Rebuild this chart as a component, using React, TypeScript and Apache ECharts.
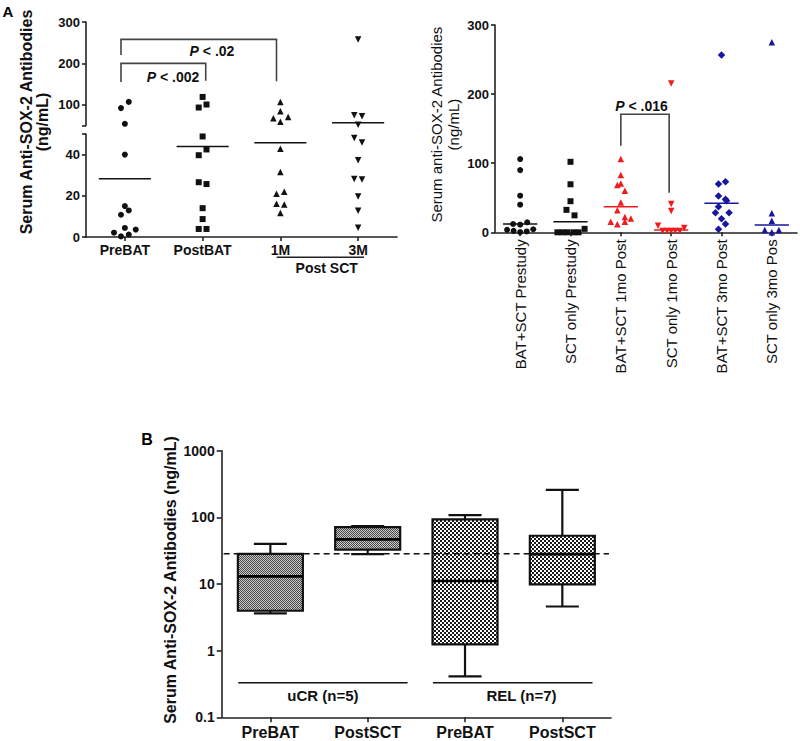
import React, { useEffect, useRef } from 'react';
import * as echarts from 'echarts';

const FONT = '"Liberation Sans", Arial, Helvetica, sans-serif';

// ---------- Panel A (left): broken axis dot plot ----------
const leftCats = ['PreBAT', 'PostBAT', '1M', '3M'];
const leftPreBAT = [107, 92, 54, 40, 15, 12.9, 10.8, 4.4, 3.6, 2.1, 1.2, 0.3];
const leftPreBATJitter = [0.05, -0.05, 0, 0, 0, 0.05, -0.05, 0, 0.14, -0.14, 0.05, -0.05];
const leftPostBAT = [119, 100.7, 93.4, 48.8, 42.5, 39.7, 26.6, 25.7, 14, 8.7, 3.9, 3.9];
const leftPostBATJitter = [0, 0.05, -0.05, 0, 0.05, -0.05, -0.05, 0.05, 0, 0, -0.05, 0.05];
const left1M = [106.6, 84.6, 70.7, 67.6, 59.3, 42.8, 31.5, 22, 21, 16.2, 15.8, 11.6];
const left1MJitter = [0, 0, 0.1, -0.09, 0, 0, 0, 0.05, -0.05, -0.05, 0.05, 0];
const left3M = [258, 74.9, 72.4, 52, 48.1, 45.9, 37.3, 28.1, 27.9, 19.6, 12.8, 4.5];
const left3MJitter = [0, -0.05, 0.05, 0, -0.05, 0.05, 0, -0.05, 0.05, 0, 0, 0];
const leftMeans = [28.3, 43.9, 45.7, 56.8];
const leftBreak = 50;
const leftUpperTicks = [50, 100, 200, 300];
const leftUpperLabels = [100, 200, 300];
const leftLowerTicks = [0, 20, 40, 50];
const leftLowerLabels = [0, 20, 40];
// brackets: [xLeft, xRight, yTop, yLeftBottom, yRightBottom, labelX, labelY]
const leftBrackets = [
  [-0.05, 1.95, 258, 220, 157, 1.12, 230],
  [-0.05, 1.04, 200, 155, 158, 0.62, 168],
];
const leftBracketLabels = ['P < .02', 'P < .002'];

// ---------- Panel A (right) ----------
const rightCats = [
  'BAT+SCT Prestudy',
  'SCT only Prestudy',
  'BAT+SCT 1mo Post',
  'SCT only 1mo Post',
  'BAT+SCT 3mo Post',
  'SCT only 3mo Pos',
];
const rBatPre = [106, 90, 53, 40, 14.5, 12, 11, 3.6, 2.1, 0.3, 1.2, 4.4];
const rBatPreJitter = [0, 0, 0, 0, 0.14, -0.14, 0, -0.26, -0.13, 0, 0.13, 0.26];
const rSctPre = [102, 69.5, 45, 32.5, 24.5, 5, 0, 0, 0, 0, 0];
const rSctPreJitter = [0, 0, 0, -0.08, 0.08, 0.28, -0.26, -0.16, -0.06, 0.06, 0.16];
const rBat1 = [106, 83, 70.5, 68.5, 60, 43, 32, 22, 20, 15.3, 15.3, 11.6];
const rBat1Jitter = [0, 0, 0, -0.07, 0.08, 0, -0.07, 0.08, 0.2, -0.2, 0.08, -0.07];
const rSct1 = [215.5, 41, 31, 9.6, 6.2, 2, 2, 2, 2, 2];
const rSct1Jitter = [0, 0, 0, -0.26, 0.26, -0.17, -0.08, 0, 0.08, 0.17];
const rBat3 = [256.6, 73.3, 70, 52.5, 47.7, 45.5, 37, 28.4, 28.4, 19.7, 12, 4.3];
const rBat3Jitter = [0, 0.08, -0.06, -0.06, 0.08, 0.1, -0.06, -0.12, 0.15, 0, 0.08, -0.06];
const rSct3 = [275, 27.5, 16.8, 3.3, 3.3, 0];
const rSct3Jitter = [0, 0, 0, -0.14, 0.14, 0];
const rMedians = [12, 15.4, 37, 3.3, 42, 10.6];
const rightTicks = [0, 100, 200, 300];
const rightBrackets = [[2.0, 2.96, 170.8, 125.3, 57.3, 2.41, 183]];
const rightBracketLabels = ['P < .016'];

// ---------- Panel B: box plots (log scale) ----------
const boxCats = ['PreBAT', 'PostSCT', 'PreBAT', 'PostSCT'];
const boxMin = [3.63, 28.1, 0.41, 4.6];
const boxQ1 = [3.97, 32.7, 1.24, 9.9];
const boxMedian = [13, 46.8, 11.1, 28.1];
const boxQ3 = [28.4, 71.5, 93.3, 53];
const boxMax = [40, 74, 108, 259];
const cutoffValue = 28.5;
const groupNames = ['uCR (n=5)', 'REL (n=7)'];
// [start, end, labelCenter] in category units
const groupSpans = [
  [-0.33, 1.41, 0.54],
  [1.67, 3.31, 2.58],
];
const groupLineValue = 0.33;

const RED = '#ee1c1c';
const BLUE = '#1616a0';
const INK = '#111';

function makePattern(cell: number, dark: string, light: string) {
  const c = document.createElement('canvas');
  c.width = cell * 2;
  c.height = cell * 2;
  const ctx = c.getContext('2d')!;
  ctx.fillStyle = light;
  ctx.fillRect(0, 0, cell * 2, cell * 2);
  ctx.fillStyle = dark;
  ctx.fillRect(0, 0, cell, cell);
  ctx.fillRect(cell, cell, cell, cell);
  return { image: c, repeat: 'repeat' };
}

function scatter(
  vals: number[],
  jit: number[],
  idx: number,
  xAxisIndex: number,
  yAxisIndex: number,
  keep: (v: number) => boolean,
  symbol: string,
  size: number,
  color: string,
  rotate = 0
) {
  const data = vals.map((v, k) => [idx + jit[k], v]).filter((p) => keep(p[1]));
  return {
    type: 'scatter',
    xAxisIndex,
    yAxisIndex,
    data,
    symbol,
    symbolSize: size,
    symbolRotate: rotate,
    itemStyle: { color, opacity: 1 },
    clip: false,
    silent: true,
    z: 4,
  };
}

function hLines(rows: number[][], colors: string[], half: number, xAxisIndex: number, yAxisIndex: number, width = 1.5) {
  return {
    type: 'custom',
    xAxisIndex,
    yAxisIndex,
    data: rows,
    silent: true,
    clip: false,
    z: 3,
    renderItem: (params: any, api: any) => {
      const i = api.value(0);
      const v = api.value(1);
      const a = api.coord([i - half, v]);
      const b = api.coord([i + half, v]);
      return {
        type: 'line',
        shape: { x1: a[0], y1: a[1], x2: b[0], y2: b[1] },
        style: { stroke: colors[params.dataIndex], lineWidth: width },
      };
    },
  };
}

function pText(label: string) {
  return '{i|' + label.slice(0, 1) + '}{n|' + label.slice(1) + '}';
}

function brackets(rows: number[][], labels: string[], xAxisIndex: number, yAxisIndex: number) {
  const rich = {
    i: { fontStyle: 'italic', fontWeight: 'bold', fontSize: 14, fontFamily: FONT, fill: INK },
    n: { fontWeight: 'bold', fontSize: 14, fontFamily: FONT, fill: INK },
  };
  return {
    type: 'custom',
    xAxisIndex,
    yAxisIndex,
    data: rows,
    silent: true,
    clip: false,
    z: 3,
    renderItem: (params: any, api: any) => {
      const x1 = api.value(0);
      const x2 = api.value(1);
      const top = api.value(2);
      const a = api.coord([x1, api.value(3)]);
      const b = api.coord([x1, top]);
      const c = api.coord([x2, top]);
      const d = api.coord([x2, api.value(4)]);
      const t = api.coord([api.value(5), api.value(6)]);
      return {
        type: 'group',
        children: [
          {
            type: 'polyline',
            shape: { points: [a, b, c, d] },
            style: { stroke: '#444', lineWidth: 1.6, fill: null },
          },
          {
            type: 'text',
            x: t[0],
            y: t[1],
            style: {
              text: pText(labels[params.dataIndex]),
              rich,
              align: 'center',
              verticalAlign: 'middle',
              textAlign: 'center',
              textVerticalAlign: 'middle',
            },
          },
        ],
      };
    },
  };
}

function buildOption() {
  const finePattern = makePattern(1, '#4a4a4a', '#c8c8c8');
  const coarsePattern = makePattern(2, '#1a1a1a', '#ffffff');
  const boxFills = [finePattern, finePattern, coarsePattern, coarsePattern];

  const axisLine = { show: true, onZero: false, lineStyle: { color: '#222', width: 1.6 } };
  const tickStyle = { color: '#222', width: 1.6 };

  const upper = (v: number) => v > leftBreak;
  const lower = (v: number) => v <= leftBreak;

  const leftSets: [number[], number[], string, number, number][] = [
    [leftPreBAT, leftPreBATJitter, 'circle', 6, 0],
    [leftPostBAT, leftPostBATJitter, 'rect', 6, 0],
    [left1M, left1MJitter, 'triangle', 6.5, 0],
    [left3M, left3MJitter, 'triangle', 6.5, 180],
  ];

  const series: any[] = [];
  leftSets.forEach(([vals, jit, sym, size, rot], i) => {
    series.push(scatter(vals, jit, i, 0, 0, upper, sym, size, INK, rot));
    series.push(scatter(vals, jit, i, 2, 1, lower, sym, size, INK, rot));
  });
  const meanRows = leftMeans.map((m, i) => [i, m]);
  const upperMeans = meanRows.filter((r) => r[1] > leftBreak);
  const lowerMeans = meanRows.filter((r) => r[1] <= leftBreak);
  series.push(hLines(upperMeans, upperMeans.map(() => INK), 0.335, 0, 0));
  series.push(hLines(lowerMeans, lowerMeans.map(() => INK), 0.335, 2, 1));
  series.push(brackets(leftBrackets, leftBracketLabels, 0, 0));

  const rightSets: [number[], number[], string, number, string, number][] = [
    [rBatPre, rBatPreJitter, 'circle', 6, INK, 0],
    [rSctPre, rSctPreJitter, 'rect', 6, INK, 0],
    [rBat1, rBat1Jitter, 'triangle', 6.5, RED, 0],
    [rSct1, rSct1Jitter, 'triangle', 6.5, RED, 180],
    [rBat3, rBat3Jitter, 'diamond', 7.5, BLUE, 0],
    [rSct3, rSct3Jitter, 'triangle', 6.5, BLUE, 0],
  ];
  const rightColors = rightSets.map((s) => s[4]);
  rightSets.forEach(([vals, jit, sym, size, color, rot], i) => {
    series.push(scatter(vals, jit, i, 4, 2, () => true, sym, size, color, rot));
  });
  series.push(hLines(rMedians.map((m, i) => [i, m]), rightColors, 0.34, 4, 2));
  series.push(brackets(rightBrackets, rightBracketLabels, 4, 2));

  // Panel B boxes
  series.push({
    type: 'custom',
    xAxisIndex: 5,
    yAxisIndex: 3,
    silent: true,
    clip: false,
    z: 2,
    data: boxCats.map((_, i) => [i, boxMin[i], boxQ1[i], boxMedian[i], boxQ3[i], boxMax[i]]),
    renderItem: (params: any, api: any) => {
      const i = api.value(0);
      const lo = api.coord([i, api.value(1)]);
      const q1 = api.coord([i, api.value(2)]);
      const md = api.coord([i, api.value(3)]);
      const q3 = api.coord([i, api.value(4)]);
      const hi = api.coord([i, api.value(5)]);
      const cx = md[0];
      const bw = 65;
      const cw = 33;
      const ls = { stroke: INK, lineWidth: 2.2 };
      return {
        type: 'group',
        children: [
          { type: 'line', shape: { x1: cx, y1: hi[1], x2: cx, y2: q3[1] }, style: ls },
          { type: 'line', shape: { x1: cx - cw / 2, y1: hi[1], x2: cx + cw / 2, y2: hi[1] }, style: ls },
          { type: 'line', shape: { x1: cx, y1: q1[1], x2: cx, y2: lo[1] }, style: ls },
          { type: 'line', shape: { x1: cx - cw / 2, y1: lo[1], x2: cx + cw / 2, y2: lo[1] }, style: ls },
          {
            type: 'rect',
            shape: { x: cx - bw / 2, y: q3[1], width: bw, height: q1[1] - q3[1] },
            style: { fill: boxFills[params.dataIndex], stroke: INK, lineWidth: 2.2 },
          },
          {
            type: 'line',
            shape: { x1: cx - bw / 2, y1: md[1], x2: cx + bw / 2, y2: md[1] },
            style: { stroke: '#000', lineWidth: 2.6 },
            z2: 10,
          },
        ],
      };
    },
  });
  // cutoff dashed line
  series.push({
    type: 'custom',
    xAxisIndex: 6,
    yAxisIndex: 3,
    silent: true,
    clip: false,
    z: 5,
    data: [[cutoffValue]],
    renderItem: (params: any, api: any) => {
      const v = api.value(0);
      const a = api.coord([-0.48, v]);
      const b = api.coord([3.48, v]);
      return {
        type: 'line',
        shape: { x1: a[0], y1: a[1], x2: b[0], y2: b[1] },
        style: { stroke: INK, lineWidth: 1.5, lineDash: [6, 4] },
      };
    },
  });
  // group lines + labels
  series.push({
    type: 'custom',
    xAxisIndex: 6,
    yAxisIndex: 3,
    silent: true,
    clip: false,
    z: 3,
    data: groupSpans.map((g) => [g[0], g[1], g[2], groupLineValue]),
    renderItem: (params: any, api: any) => {
      const y = api.value(3);
      const a = api.coord([api.value(0), y]);
      const b = api.coord([api.value(1), y]);
      const c = api.coord([api.value(2), y]);
      return {
        type: 'group',
        children: [
          { type: 'line', shape: { x1: a[0], y1: a[1], x2: b[0], y2: b[1] }, style: { stroke: INK, lineWidth: 1.4 } },
          {
            type: 'text',
            x: c[0],
            y: c[1] + 13,
            style: {
              text: groupNames[params.dataIndex],
              fontSize: 15,
              fontWeight: 'bold',
              fontFamily: FONT,
              fill: INK,
              align: 'center',
              verticalAlign: 'middle',
              textAlign: 'center',
              textVerticalAlign: 'middle',
            },
          },
        ],
      };
    },
  });

  const labelBold = (size: number) => ({ fontSize: size, fontWeight: 'bold', color: INK, fontFamily: FONT });

  return {
    animation: false,
    backgroundColor: '#fff',
    grid: [
      { left: 86, top: 22, width: 311, height: 103.5 },
      { left: 86, top: 134, width: 311, height: 103 },
      { left: 495, top: 25, width: 302, height: 207.3 },
      { left: 221.7, top: 450.7, width: 389.3, height: 266.6 },
    ],
    xAxis: [
      { gridIndex: 0, type: 'value', min: -0.5, max: 3.5, show: false, position: 'top' },
      {
        gridIndex: 1,
        type: 'category',
        position: 'bottom',
        data: leftCats,
        axisLine,
        axisTick: { show: true, alignWithLabel: true, length: 4, lineStyle: tickStyle },
        axisLabel: { ...labelBold(14), margin: 6, interval: 0 },
        splitLine: { show: false },
      },
      { gridIndex: 1, type: 'value', min: -0.5, max: 3.5, show: false, position: 'top' },
      {
        gridIndex: 2,
        type: 'category',
        position: 'bottom',
        data: rightCats,
        axisLine,
        axisTick: { show: true, alignWithLabel: true, length: 4, lineStyle: tickStyle },
        axisLabel: { fontSize: 15, color: INK, fontFamily: FONT, rotate: 90, margin: 7, interval: 0 },
        splitLine: { show: false },
      },
      { gridIndex: 2, type: 'value', min: -0.5, max: 5.5, show: false, position: 'top' },
      {
        gridIndex: 3,
        type: 'category',
        position: 'bottom',
        data: boxCats,
        axisLine,
        axisTick: { show: true, alignWithLabel: true, length: 5, lineStyle: tickStyle },
        axisLabel: { ...labelBold(16), margin: 7, interval: 0 },
        splitLine: { show: false },
      },
      { gridIndex: 3, type: 'value', min: -0.5, max: 3.5, show: false, position: 'top' },
    ],
    yAxis: [
      {
        gridIndex: 0,
        type: 'value',
        position: 'left',
        min: 50,
        max: 300,
        axisLine,
        axisTick: { show: true, length: 4, lineStyle: tickStyle, customValues: leftUpperTicks },
        axisLabel: { ...labelBold(13), margin: 6, customValues: leftUpperLabels },
        splitLine: { show: false },
      },
      {
        gridIndex: 1,
        type: 'value',
        position: 'left',
        min: 0,
        max: 50,
        axisLine,
        axisTick: { show: true, length: 4, lineStyle: tickStyle, customValues: leftLowerTicks },
        axisLabel: { ...labelBold(13), margin: 6, customValues: leftLowerLabels },
        splitLine: { show: false },
      },
      {
        gridIndex: 2,
        type: 'value',
        position: 'left',
        min: 0,
        max: 300,
        axisLine,
        axisTick: { show: true, length: 4, lineStyle: tickStyle, customValues: rightTicks },
        axisLabel: { ...labelBold(13), margin: 6, customValues: rightTicks },
        splitLine: { show: false },
      },
      {
        gridIndex: 3,
        type: 'log',
        position: 'left',
        logBase: 10,
        min: 0.1,
        max: 1000,
        axisLine,
        axisTick: { show: true, length: 5, lineStyle: tickStyle },
        minorTick: { show: false },
        axisLabel: {
          ...labelBold(14),
          margin: 7,
          formatter: (v: number) => (v < 1 ? v.toFixed(1) : String(Math.round(v))),
        },
        splitLine: { show: false },
      },
    ],
    graphic: [
      {
        type: 'text',
        x: 8,
        y: 11,
        style: { text: 'A', font: `bold 15px ${FONT}`, fill: '#000', align: 'center', verticalAlign: 'middle', textAlign: 'center', textVerticalAlign: 'middle' },
      },
      {
        type: 'text',
        x: 147,
        y: 439,
        style: { text: 'B', font: `bold 16px ${FONT}`, fill: '#000', align: 'center', verticalAlign: 'middle', textAlign: 'center', textVerticalAlign: 'middle' },
      },
      {
        type: 'text',
        x: 34.5,
        y: 122,
        rotation: Math.PI / 2,
        style: {
          text: 'Serum Anti-SOX-2 Antibodies\n(ng/mL)',
          font: `bold 16px ${FONT}`,
          lineHeight: 16,
          fill: INK,
          align: 'center',
          verticalAlign: 'middle',
          textAlign: 'center',
          textVerticalAlign: 'middle',
        },
      },
      {
        type: 'text',
        x: 444.5,
        y: 124.6,
        rotation: Math.PI / 2,
        style: {
          text: 'Serum anti-SOX-2 Antibodies\n(ng/mL)',
          font: `15px ${FONT}`,
          lineHeight: 17,
          fill: INK,
          align: 'center',
          verticalAlign: 'middle',
          textAlign: 'center',
          textVerticalAlign: 'middle',
        },
      },
      {
        type: 'text',
        x: 170.5,
        y: 580,
        rotation: Math.PI / 2,
        style: {
          text: 'Serum Anti-SOX-2 Antibodies (ng/mL)',
          font: `bold 16px ${FONT}`,
          fill: INK,
          align: 'center',
          verticalAlign: 'middle',
          textAlign: 'center',
          textVerticalAlign: 'middle',
        },
      },
      {
        type: 'line',
        shape: { x1: 276.7, y1: 257.3, x2: 364, y2: 257.3 },
        style: { stroke: '#222', lineWidth: 1.5 },
      },
      {
        type: 'text',
        x: 326.7,
        y: 268,
        style: {
          text: 'Post SCT',
          font: `bold 14px ${FONT}`,
          fill: INK,
          align: 'center',
          verticalAlign: 'middle',
          textAlign: 'center',
          textVerticalAlign: 'middle',
        },
      },
    ],
    series,
  };
}

export default function App() {
  const ref = useRef<HTMLDivElement>(null);
  useEffect(() => {
    if (!ref.current) return;
    const chart = echarts.init(ref.current, undefined, { renderer: 'svg' });
    chart.setOption(buildOption() as any);
    return () => chart.dispose();
  }, []);
  return (
    <div
      ref={ref}
      style={{ position: 'absolute', left: 0, top: 0, width: 800, height: 741, background: '#fff' }}
    />
  );
}
